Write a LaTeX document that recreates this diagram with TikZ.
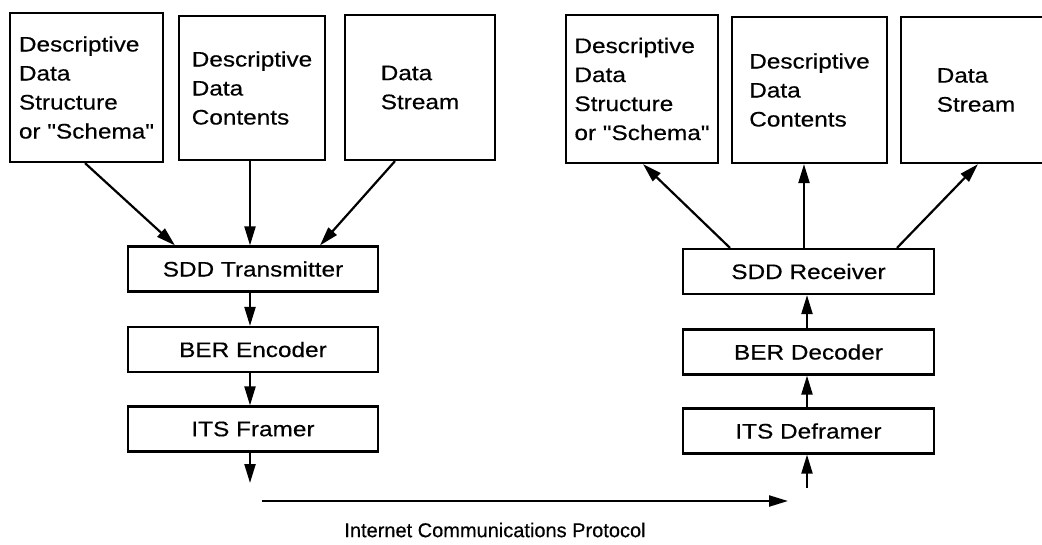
\documentclass[tikz,border=0pt]{standalone}
\usepackage{fontspec}
\setmainfont{Liberation Sans}[FakeBold=0.4]
\newfontfamily\boxfont{Liberation Sans}[FakeStretch=1.16, FakeBold=0.4]
\usetikzlibrary{calc}
\usetikzlibrary{arrows.meta}

\begin{document}
\begin{tikzpicture}[x=1pt, y=-1pt, line width=2.2pt,
  >={Triangle[length=19pt, width=11pt]},
  databox/.style={draw, rectangle, align=left, inner sep=0,
    font=\boxfont\fontsize{21}{29}\selectfont},
  stagebox/.style={draw, rectangle, minimum width=250pt, minimum height=45pt,
    inner sep=0, font=\boxfont\fontsize{21}{29}\selectfont}]

\useasboundingbox (0,0) rectangle (1042,544);
\clip (0,0) rectangle (1042,544);

% sending side
\node[databox, minimum width=153pt, minimum height=149pt] (schemaL) at (86.5,87.5)
  {Descriptive\\Data\\Structure\\or "Schema"};
\node[databox, minimum width=146pt, minimum height=144pt] (contentsL) at (252,88)
  {Descriptive\\Data\\Contents};
\node[databox, minimum width=150pt, minimum height=145pt] (streamL) at (420,87.5)
  {Data\\Stream};

\node[stagebox] (sddT) at (253,269) {SDD Transmitter};
\node[stagebox] (berE) at (253,349.5) {BER Encoder};
\node[stagebox] (itsF) at (253,429) {ITS Framer};

\draw[->] ([xshift=-1.5]schemaL.south) -- ([xshift=-78]sddT.north);
\draw[->] ([xshift=-2]contentsL.south) -- ([xshift=-3]sddT.north);
\draw[->] ([xshift=-25]streamL.south) -- ([xshift=67]sddT.north);
\draw[->] ([xshift=-3]sddT.south) -- ([xshift=-3]berE.north);
\draw[->] ([xshift=-3]berE.south) -- ([xshift=-3]itsF.north);

\coordinate (n1) at (250,483);
\draw[->] ([xshift=-3]itsF.south) -- (n1);

% receiving side
\node[databox, minimum width=152pt, minimum height=148pt] (schemaR) at (642,89)
  {Descriptive\\Data\\Structure\\or "Schema"};
\node[databox, minimum width=155pt, minimum height=146pt] (contentsR) at (809.5,90)
  {Descriptive\\Data\\Contents};
\node[databox, minimum width=150pt, minimum height=146pt] (streamR) at (976,90)
  {Data\\Stream};

\node[stagebox, minimum width=251pt] (sddR) at (808.5,271.5) {SDD Receiver};
\node[stagebox, minimum width=251pt] (berD) at (808.5,352) {BER Decoder};
\node[stagebox, minimum width=251pt] (itsD) at (808.5,431) {ITS Deframer};

\coordinate (n2) at (807,488);
\draw[->] (n2) -- ([xshift=-1.5]itsD.south);
\draw[->] ([xshift=-1.5]itsD.north) -- ([xshift=-1.5]berD.south);
\draw[->] ([xshift=-1.5]berD.north) -- ([xshift=-1.5]sddR.south);

\draw[->] ([xshift=-78.5]sddR.north) -- ([xshift=1]schemaR.south);
\draw[->] ([xshift=-4.5]sddR.north) -- ([xshift=-5.5]contentsR.south);
\draw[->] ([xshift=88.5]sddR.north) -- ([xshift=2]streamR.south);

% link
\coordinate (n3) at (262,501);
\coordinate (n4) at (788,501);
\draw[->] (n3) -- (n4);
\node[font=\fontsize{20}{24}\selectfont] (proto) at (495,530) {Internet Communications Protocol};

\end{tikzpicture}
\end{document}
